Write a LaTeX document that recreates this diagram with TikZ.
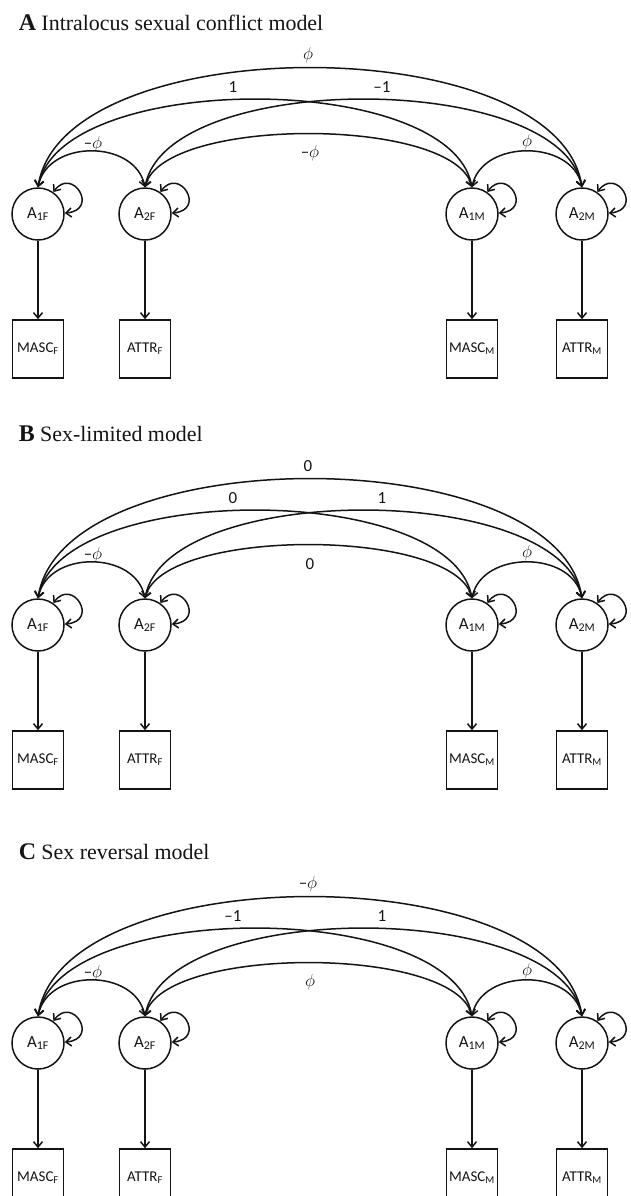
\documentclass[tikz,border=0pt]{standalone}
\usepackage{fontspec}
\setmainfont{Liberation Serif}
\newfontfamily\calibri{Carlito}
\usetikzlibrary{arrows.meta}
\newcommand{\pphi}{{\fontsize{19}{19}\selectfont$\phi$}}
\newcommand{\nphi}{\textendash\pphi}
\tikzset{
   latent node/.style={circle,draw,minimum size=52bp,inner sep=0pt,font=\calibri\fontsize{17}{17}\selectfont},
   observed node/.style={rectangle,draw,minimum width=51bp,minimum height=58bp,inner sep=0pt,font=\calibri\fontsize{15}{15}\selectfont},
   coef node/.style={inner sep=0pt,font=\calibri\fontsize{17}{17}\selectfont},
   title node/.style={anchor=base west,inner sep=0pt,font=\fontsize{22}{26}\selectfont}
}
% #1 shift, #2 letter, #3 title, #4 1F-2M, #5 1F-1M, #6 2F-2M, #7 1F-2F, #8 2F-1M, #9 1M-2M
\newcommand{\sexModel}[9]{%
\begin{scope}[yshift=-#1bp]
\node[title node] (title) at (18,30) {\textbf{\fontsize{24}{26}\selectfont #2} #3};
\node[latent node] (a1f) at (38,214) {A\textsubscript{1F}};
\node[latent node] (a2f) at (145,214) {A\textsubscript{2F}};
\node[latent node] (a1m) at (472,214) {A\textsubscript{1M}};
\node[latent node] (a2m) at (582,214) {A\textsubscript{2M}};
\node[observed node] (mascf) at (38,349) {MASC\textsubscript{F}};
\node[observed node] (attrf) at (145,349) {ATTR\textsubscript{F}};
\node[observed node] (mascm) at (472,349) {MASC\textsubscript{M}};
\node[observed node] (attrm) at (582,349) {ATTR\textsubscript{M}};
\draw[->] (a1f) -- (mascf);
\draw[->] (a2f) -- (attrf);
\draw[->] (a1m) -- (mascm);
\draw[->] (a2m) -- (attrm);
% variances
\foreach \n in {a1f,a2f,a1m,a2m}
  \draw[<->] (\n.55) .. controls +(19,-26) and +(35,-3) .. (\n.2);
% covariances
\draw[<->] (a1f.north) .. controls +(25,-159) and +(-25,-159) .. (a2m.north);
\draw[<->] (a1f.north) .. controls +(22,-117) and +(-22,-117) .. (a1m.north);
\draw[<->] (a2f.north) .. controls +(22,-117) and +(-22,-117) .. (a2m.north);
\draw[<->] (a2f.north) .. controls +(18,-71) and +(-18,-71) .. (a1m.north);
\draw[<->] (a1f.north) .. controls +(10,-48) and +(-10,-48) .. (a2f.north);
\draw[<->] (a1m.north) .. controls +(10,-48) and +(-10,-48) .. (a2m.north);
\node[coef node] (c1) at (308,55) {#4};
\node[coef node] (c2) at (233,87) {#5};
\node[coef node] (c3) at (382,87) {#6};
\node[coef node] (c4) at (93,144) {#7};
\node[coef node] (c5) at (310,153) {#8};
\node[coef node] (c6) at (527,142) {#9};
\end{scope}}

\begin{document}
\begin{tikzpicture}[x=1bp,y=-1bp,>={Straight Barb[length=5.5bp,width=9bp]},line width=1.5bp,color=black!92]
\useasboundingbox (0,0) rectangle (631,1196);
\sexModel{0}{A}{Intralocus sexual conflict model}{\pphi}{1}{\textendash1}{\nphi}{\nphi}{\pphi}
\sexModel{411}{B}{Sex-limited model}{0}{0}{1}{\nphi}{0}{\pphi}
\sexModel{829}{C}{Sex reversal model}{\nphi}{\textendash1}{1}{\nphi}{\pphi}{\pphi}
\end{tikzpicture}
\end{document}
